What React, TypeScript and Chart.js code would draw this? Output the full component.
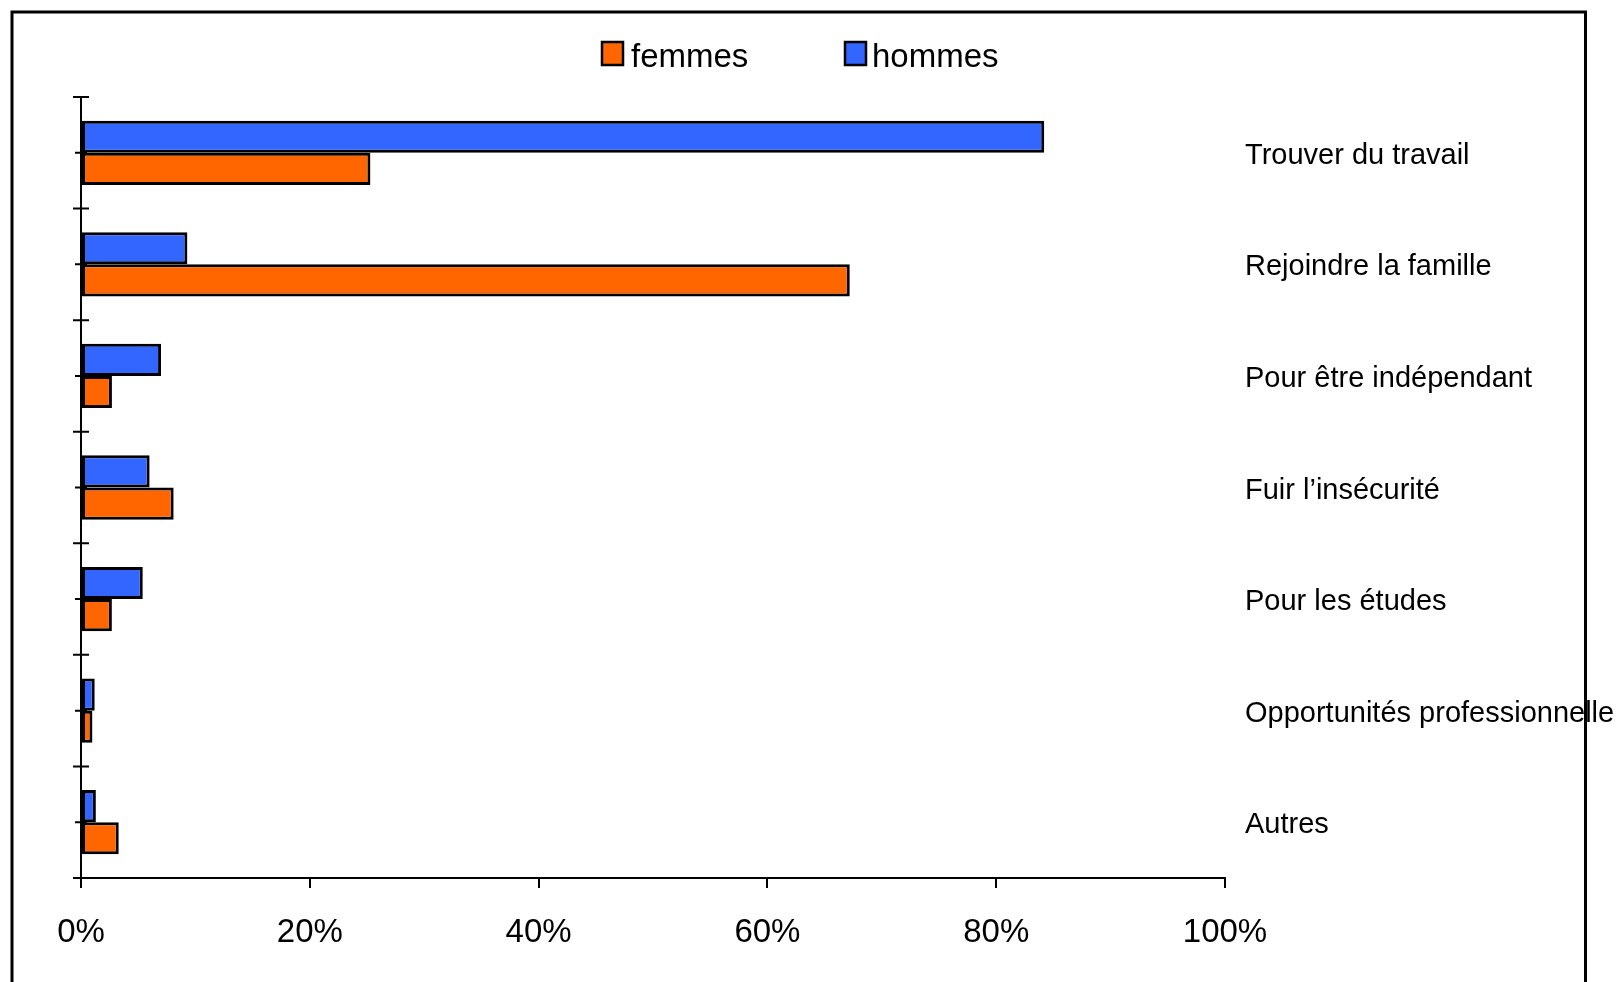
import React, { useEffect, useRef } from 'react';
import { Chart, registerables } from 'chart.js';

Chart.register(...registerables);

const categories = [
  'Trouver du travail',
  'Rejoindre la famille',
  'Pour être indépendant',
  'Fuir l’insécurité',
  'Pour les études',
  'Opportunités professionnelle',
  'Autres',
];
const hommes = [84.2, 9.3, 7.0, 6.0, 5.4, 1.2, 1.3];
const femmes = [25.3, 67.2, 2.7, 8.1, 2.7, 1.0, 3.3];
const seriesNames = ['femmes', 'hommes'];
const xMin = 0;
const xMax = 100;
const xStep = 20;

const ORANGE = '#FF6600';
const BLUE = '#3366FF';
const FONT = '"Liberation Sans", Arial, sans-serif';

const yTicksPlugin = {
  id: 'yTicks',
  beforeDatasetsDraw(chart: any) {
    const y = chart.scales.y;
    const ctx = chart.ctx;
    const x0 = chart.chartArea.left;
    const n = categories.length;
    const step = y.getPixelForValue(1) - y.getPixelForValue(0);
    ctx.save();
    ctx.strokeStyle = '#000';
    ctx.lineWidth = 2;
    ctx.beginPath();
    for (let i = 0; i < n; i++) {
      const c = y.getPixelForValue(i);
      ctx.moveTo(x0 - 6, c);
      ctx.lineTo(x0 + 6, c);
    }
    for (let i = 0; i <= n; i++) {
      const b = y.getPixelForValue(0) - step / 2 + i * step;
      ctx.moveTo(x0 - 8, b);
      ctx.lineTo(x0 + 8, b);
    }
    ctx.stroke();
    ctx.restore();
  },
};

const legendAndFramePlugin = {
  id: 'legendFrame',
  afterDraw(chart: any) {
    const ctx = chart.ctx;
    ctx.save();
    const items = [
      { label: seriesNames[0], color: ORANGE, boxX: 602, textX: 631 },
      { label: seriesNames[1], color: BLUE, boxX: 845, textX: 872 },
    ];
    ctx.font = `33px ${FONT}`;
    ctx.textBaseline = 'alphabetic';
    ctx.textAlign = 'left';
    for (const it of items) {
      ctx.fillStyle = it.color;
      ctx.fillRect(it.boxX, 42, 21, 23);
      ctx.strokeStyle = '#000';
      ctx.lineWidth = 2.5;
      ctx.strokeRect(it.boxX, 42, 21, 23);
      ctx.fillStyle = '#000';
      ctx.fillText(it.label, it.textX, 67);
    }
    ctx.strokeStyle = '#000';
    ctx.lineWidth = 3;
    ctx.strokeRect(12, 12, 1573.5, 1000);
    ctx.restore();
  },
};

export default function App() {
  const ref = useRef<HTMLCanvasElement | null>(null);
  useEffect(() => {
    if (!ref.current) return;
    const chart = new Chart(ref.current, {
      type: 'bar',
      data: {
        labels: categories,
        datasets: [
          {
            label: seriesNames[1],
            data: hommes,
            backgroundColor: BLUE,
            borderColor: '#000',
            borderWidth: 3,
            borderSkipped: false,
            yAxisID: 'y',
          },
          {
            label: seriesNames[0],
            data: femmes,
            backgroundColor: ORANGE,
            borderColor: '#000',
            borderWidth: 3,
            borderSkipped: false,
            yAxisID: 'y',
          },
        ],
      },
      options: {
        indexAxis: 'y',
        responsive: false,
        animation: false,
        layout: { padding: { top: 97, left: 0, right: 0, bottom: 0 } },
        datasets: {
          bar: { barPercentage: 1, categoryPercentage: 0.576 },
        },
        plugins: {
          legend: { display: false },
          tooltip: { enabled: false },
          title: { display: false },
        },
        scales: {
          x: {
            type: 'linear',
            position: 'bottom',
            min: xMin,
            max: xMax,
            ticks: {
              stepSize: xStep,
              color: '#000',
              padding: 25,
              font: { family: FONT, size: 33 },
              callback: (v: any) => `${v}%`,
            },
            grid: {
              drawOnChartArea: false,
              drawTicks: true,
              tickLength: 10,
              color: '#000',
              lineWidth: 2,
            },
            border: { display: true, color: '#000', width: 2 },
            afterFit: (s: any) => {
              s.height = 982 - 878;
            },
          },
          y: {
            type: 'category',
            position: 'left',
            offset: true,
            ticks: { display: false },
            grid: { display: false },
            border: { display: true, color: '#000', width: 2 },
            afterFit: (s: any) => {
              s.width = 81;
            },
          },
          y2: {
            type: 'category',
            position: 'right',
            labels: categories,
            offset: true,
            ticks: {
              color: '#000',
              padding: 12,
              labelOffset: 3,
              font: { family: FONT, size: 29 },
            },
            grid: { display: false },
            border: { display: false },
            afterFit: (s: any) => {
              s.width = 1624 - 1225;
            },
          },
        },
      },
      plugins: [yTicksPlugin, legendAndFramePlugin],
    } as any);
    return () => chart.destroy();
  }, []);

  return (
    <div style={{ position: 'fixed', left: 0, top: 0, width: 1624, height: 982, background: '#fff' }}>
      <canvas ref={ref} width={1624} height={982} style={{ display: 'block' }} />
    </div>
  );
}
